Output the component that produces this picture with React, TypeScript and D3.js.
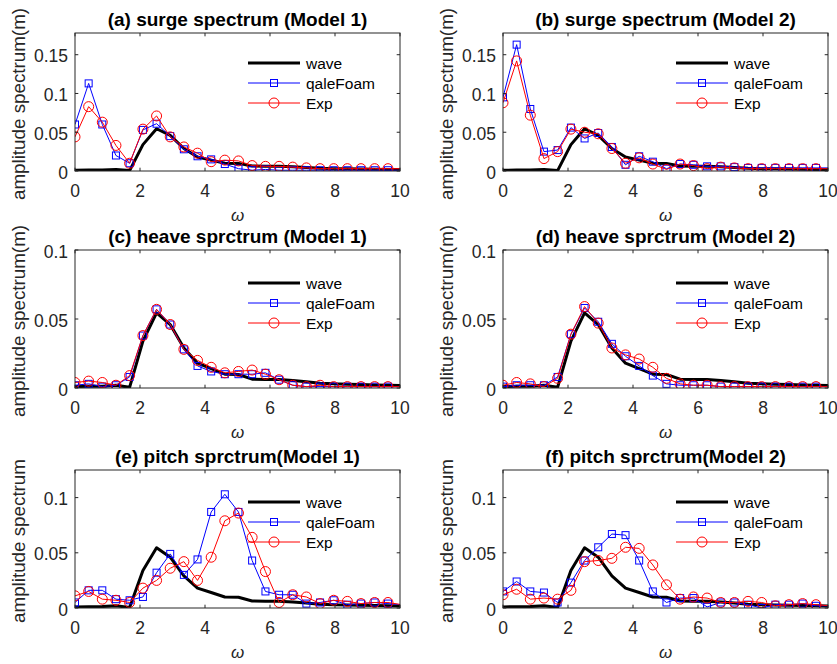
import React from "react";
import * as d3 from "d3";

const omega = [0, 0.42, 0.84, 1.26, 1.68, 2.09, 2.51, 2.93, 3.35, 3.77, 4.19, 4.61, 5.03, 5.45, 5.86, 6.28, 6.7, 7.12, 7.54, 7.96, 8.38, 8.8, 9.22, 9.63, 10.05];

const wave = [0.001, 0.0012, 0.0013, 0.002, 0.0005, 0.034, 0.0545, 0.046, 0.029, 0.018, 0.014, 0.010, 0.0098, 0.0064, 0.0062, 0.0062, 0.0055, 0.0045, 0.0035, 0.003, 0.0028, 0.0025, 0.0022, 0.002, 0.0018];

const surgeM1Foam = [0.060, 0.113, 0.060, 0.020, 0.010, 0.053, 0.061, 0.045, 0.028, 0.019, 0.015, 0.009, 0.003, 0.001, 0.002, 0.001, 0.001, 0.001, 0.001, 0.001, 0.001, 0.001, 0.001, 0.001, 0.001];
const surgeM1Exp = [0.044, 0.083, 0.063, 0.033, 0.010, 0.054, 0.071, 0.044, 0.031, 0.023, 0.012, 0.014, 0.013, 0.007, 0.006, 0.006, 0.005, 0.004, 0.003, 0.003, 0.003, 0.003, 0.003, 0.003, 0.003];
const surgeM2Foam = [0.095, 0.163, 0.080, 0.025, 0.027, 0.056, 0.042, 0.049, 0.031, 0.008, 0.019, 0.012, 0.003, 0.009, 0.008, 0.006, 0.006, 0.005, 0.004, 0.004, 0.004, 0.004, 0.004, 0.004, 0.004];
const surgeM2Exp = [0.088, 0.142, 0.072, 0.016, 0.025, 0.054, 0.050, 0.048, 0.029, 0.010, 0.017, 0.009, 0.002, 0.009, 0.007, 0.003, 0.005, 0.004, 0.003, 0.003, 0.003, 0.003, 0.003, 0.003, 0.003];
const heaveM1Foam = [0.002, 0.003, 0.001, 0.002, 0.008, 0.038, 0.057, 0.046, 0.028, 0.016, 0.012, 0.010, 0.010, 0.010, 0.011, 0.006, 0.002, 0.001, 0.001, 0.001, 0.001, 0.001, 0.001, 0.001, 0.001];
const heaveM1Exp = [0.004, 0.005, 0.004, 0.002, 0.009, 0.038, 0.057, 0.046, 0.028, 0.020, 0.015, 0.011, 0.012, 0.013, 0.010, 0.006, 0.002, 0.001, 0.002, 0.001, 0.001, 0.001, 0.001, 0.001, 0.001];
const heaveM2Foam = [0.001, 0.002, 0.002, 0.002, 0.008, 0.039, 0.058, 0.048, 0.032, 0.023, 0.016, 0.009, 0.003, 0.002, 0.002, 0.002, 0.001, 0.001, 0.001, 0.001, 0.001, 0.001, 0.001, 0.001, 0.001];
const heaveM2Exp = [0.002, 0.004, 0.003, 0.001, 0.007, 0.039, 0.059, 0.047, 0.029, 0.024, 0.021, 0.015, 0.007, 0.003, 0.002, 0.002, 0.001, 0.001, 0.001, 0.001, 0.001, 0.001, 0.001, 0.001, 0.001];
const pitchM1Foam = [0.005, 0.016, 0.016, 0.008, 0.007, 0.010, 0.032, 0.049, 0.030, 0.044, 0.087, 0.103, 0.087, 0.043, 0.015, 0.012, 0.012, 0.004, 0.005, 0.007, 0.003, 0.004, 0.005, 0.004, 0.003];
const pitchM1Exp = [0.011, 0.015, 0.008, 0.007, 0.005, 0.018, 0.025, 0.036, 0.042, 0.025, 0.046, 0.079, 0.086, 0.064, 0.033, 0.005, 0.012, 0.010, 0.004, 0.007, 0.006, 0.004, 0.005, 0.005, 0.003];
const pitchM2Foam = [0.015, 0.024, 0.015, 0.014, 0.005, 0.023, 0.043, 0.055, 0.067, 0.066, 0.043, 0.015, 0.005, 0.009, 0.009, 0.001, 0.005, 0.005, 0.003, 0.000, 0.003, 0.003, 0.004, 0.002, 0.002];
const pitchM2Exp = [0.012, 0.017, 0.008, 0.009, 0.008, 0.016, 0.042, 0.043, 0.045, 0.055, 0.054, 0.039, 0.021, 0.008, 0.010, 0.009, 0.005, 0.005, 0.006, 0.005, 0.002, 0.003, 0.004, 0.003, 0.002];

const titles = [
  "(a) surge spectrum (Model 1)",
  "(b) surge spectrum (Model 2)",
  "(c) heave sprctrum (Model 1)",
  "(d) heave sprctrum (Model 2)",
  "(e) pitch sprctrum(Model 1)",
  "(f) pitch sprctrum(Model 2)",
];
const yLabels = ["amplitude spectrum(m)", "amplitude spectrum(m)", "amplitude spectrum(m)", "amplitude spectrum(m)", "amplitude spectrum", "amplitude spectrum"];
const yMaxes = [0.178, 0.178, 0.1, 0.1, 0.125, 0.125];
const yTicksA = [0, 0.05, 0.1, 0.15];
const yTicksB = [0, 0.05, 0.1];
const xTicks = [0, 2, 4, 6, 8, 10];
const legendNames = ["wave", "qaleFoam", "Exp"];

const foamSeries = [surgeM1Foam, surgeM2Foam, heaveM1Foam, heaveM2Foam, pitchM1Foam, pitchM2Foam];
const expSeries = [surgeM1Exp, surgeM2Exp, heaveM1Exp, heaveM2Exp, pitchM1Exp, pitchM2Exp];

const FONT = "'Liberation Sans', Arial, Helvetica, sans-serif";
const AX = "#262626";
const colLeft = [75, 503];
const rowTop = [33, 250, 470];
const PW = 325;
const PH = 138;
const legendOffsets = [30, 30, 33, 33, 32, 32];

function fmt(v: number) {
  return v === 0 ? "0" : String(+v.toFixed(2));
}

function Panel({ idx }: { idx: number }) {
  const left = colLeft[idx % 2];
  const top = rowTop[Math.floor(idx / 2)];
  const x = d3.scaleLinear().domain([0, 10]).range([left, left + PW]);
  const y = d3.scaleLinear().domain([0, yMaxes[idx]]).range([top + PH, top]);
  const yTicks = idx < 2 ? yTicksA : yTicksB;
  const line = d3.line<number>().x((_, i) => x(omega[i])).y((d) => y(d));
  const foam = foamSeries[idx];
  const exp = expSeries[idx];
  const clipId = `clip${idx}`;
  const legX0 = left + PW - 152;
  const legX1 = left + PW - 100;
  const legTop = top + legendOffsets[idx];
  const bottom = top + PH;
  const right = left + PW;
  return (
    <g>
      <defs>
        <clipPath id={clipId}>
          <rect x={left} y={top} width={PW} height={PH} />
        </clipPath>
      </defs>
      <rect x={left} y={top} width={PW} height={PH} fill="white" />
      <g clipPath={`url(#${clipId})`}>
        <path d={line(wave) || ""} fill="none" stroke="black" strokeWidth={3} strokeLinejoin="round" />
        <path d={line(foam) || ""} fill="none" stroke="#0000ff" strokeWidth={1} />
        {foam.map((v, i) =>
          omega[i] <= 10 ? (
            <rect key={i} x={x(omega[i]) - 3.5} y={y(v) - 3.5} width={7} height={7} fill="none" stroke="#0000ff" strokeWidth={1} />
          ) : null
        )}
        <path d={line(exp) || ""} fill="none" stroke="#ff0000" strokeWidth={1} />
        {exp.map((v, i) =>
          omega[i] <= 10 ? (
            <circle key={i} cx={x(omega[i])} cy={y(v)} r={5} fill="none" stroke="#ff0000" strokeWidth={1} />
          ) : null
        )}
      </g>
      <rect x={left} y={top} width={PW} height={PH} fill="none" stroke={AX} strokeWidth={1} />
      {xTicks.map((t) => (
        <g key={"x" + t}>
          <line x1={x(t)} x2={x(t)} y1={bottom} y2={bottom - 3.3} stroke={AX} />
          <line x1={x(t)} x2={x(t)} y1={top} y2={top + 3.3} stroke={AX} />
          <text x={x(t)} y={bottom + 26} textAnchor="middle" fontSize={17.5} fill={AX} fontFamily={FONT}>
            {t}
          </text>
        </g>
      ))}
      {yTicks.map((t) => (
        <g key={"y" + t}>
          <line x1={left} x2={left + 3.3} y1={y(t)} y2={y(t)} stroke={AX} />
          <line x1={right} x2={right - 3.3} y1={y(t)} y2={y(t)} stroke={AX} />
          <text x={left - 7} y={y(t) + 7.5} textAnchor="end" fontSize={17.5} fill={AX} fontFamily={FONT}>
            {fmt(t)}
          </text>
        </g>
      ))}
      <text x={left + PW / 2} y={top - 7} textAnchor="middle" fontSize={19} fontWeight="bold" fill="black" fontFamily={FONT}>
        {titles[idx]}
      </text>
      <text x={left + PW / 2} y={bottom + 50} textAnchor="middle" fontSize={17} fontStyle="italic" fill={AX} fontFamily={FONT}>
        ω
      </text>
      <text
        transform={`translate(${left - 50},${top + PH / 2 + 2}) rotate(-90)`}
        textAnchor="middle"
        fontSize={18.8}
        fill={AX}
        fontFamily={FONT}
      >
        {yLabels[idx]}
      </text>
      {legendNames.map((name, k) => {
        const ly = legTop + k * 20;
        const mx = (legX0 + legX1) / 2;
        return (
          <g key={name}>
            {k === 0 && <line x1={legX0} x2={legX1} y1={ly} y2={ly} stroke="black" strokeWidth={3} />}
            {k === 1 && (
              <g>
                <line x1={legX0} x2={legX1} y1={ly} y2={ly} stroke="#0000ff" strokeWidth={1} />
                <rect x={mx - 3.5} y={ly - 3.5} width={7} height={7} fill="none" stroke="#0000ff" />
              </g>
            )}
            {k === 2 && (
              <g>
                <line x1={legX0} x2={legX1} y1={ly} y2={ly} stroke="#ff0000" strokeWidth={1} />
                <circle cx={mx} cy={ly} r={5} fill="none" stroke="#ff0000" />
              </g>
            )}
            <text x={legX1 + 6} y={ly + 5.5} fontSize={15.5} fill="black" fontFamily={FONT}>
              {name}
            </text>
          </g>
        );
      })}
    </g>
  );
}

export default function App() {
  return (
    <svg
      width={837}
      height={664}
      style={{ position: "absolute", left: 0, top: 0, background: "white" }}
    >
      <rect x={0} y={0} width={837} height={664} fill="white" />
      {[0, 1, 2, 3, 4, 5].map((i) => (
        <Panel key={i} idx={i} />
      ))}
    </svg>
  );
}
